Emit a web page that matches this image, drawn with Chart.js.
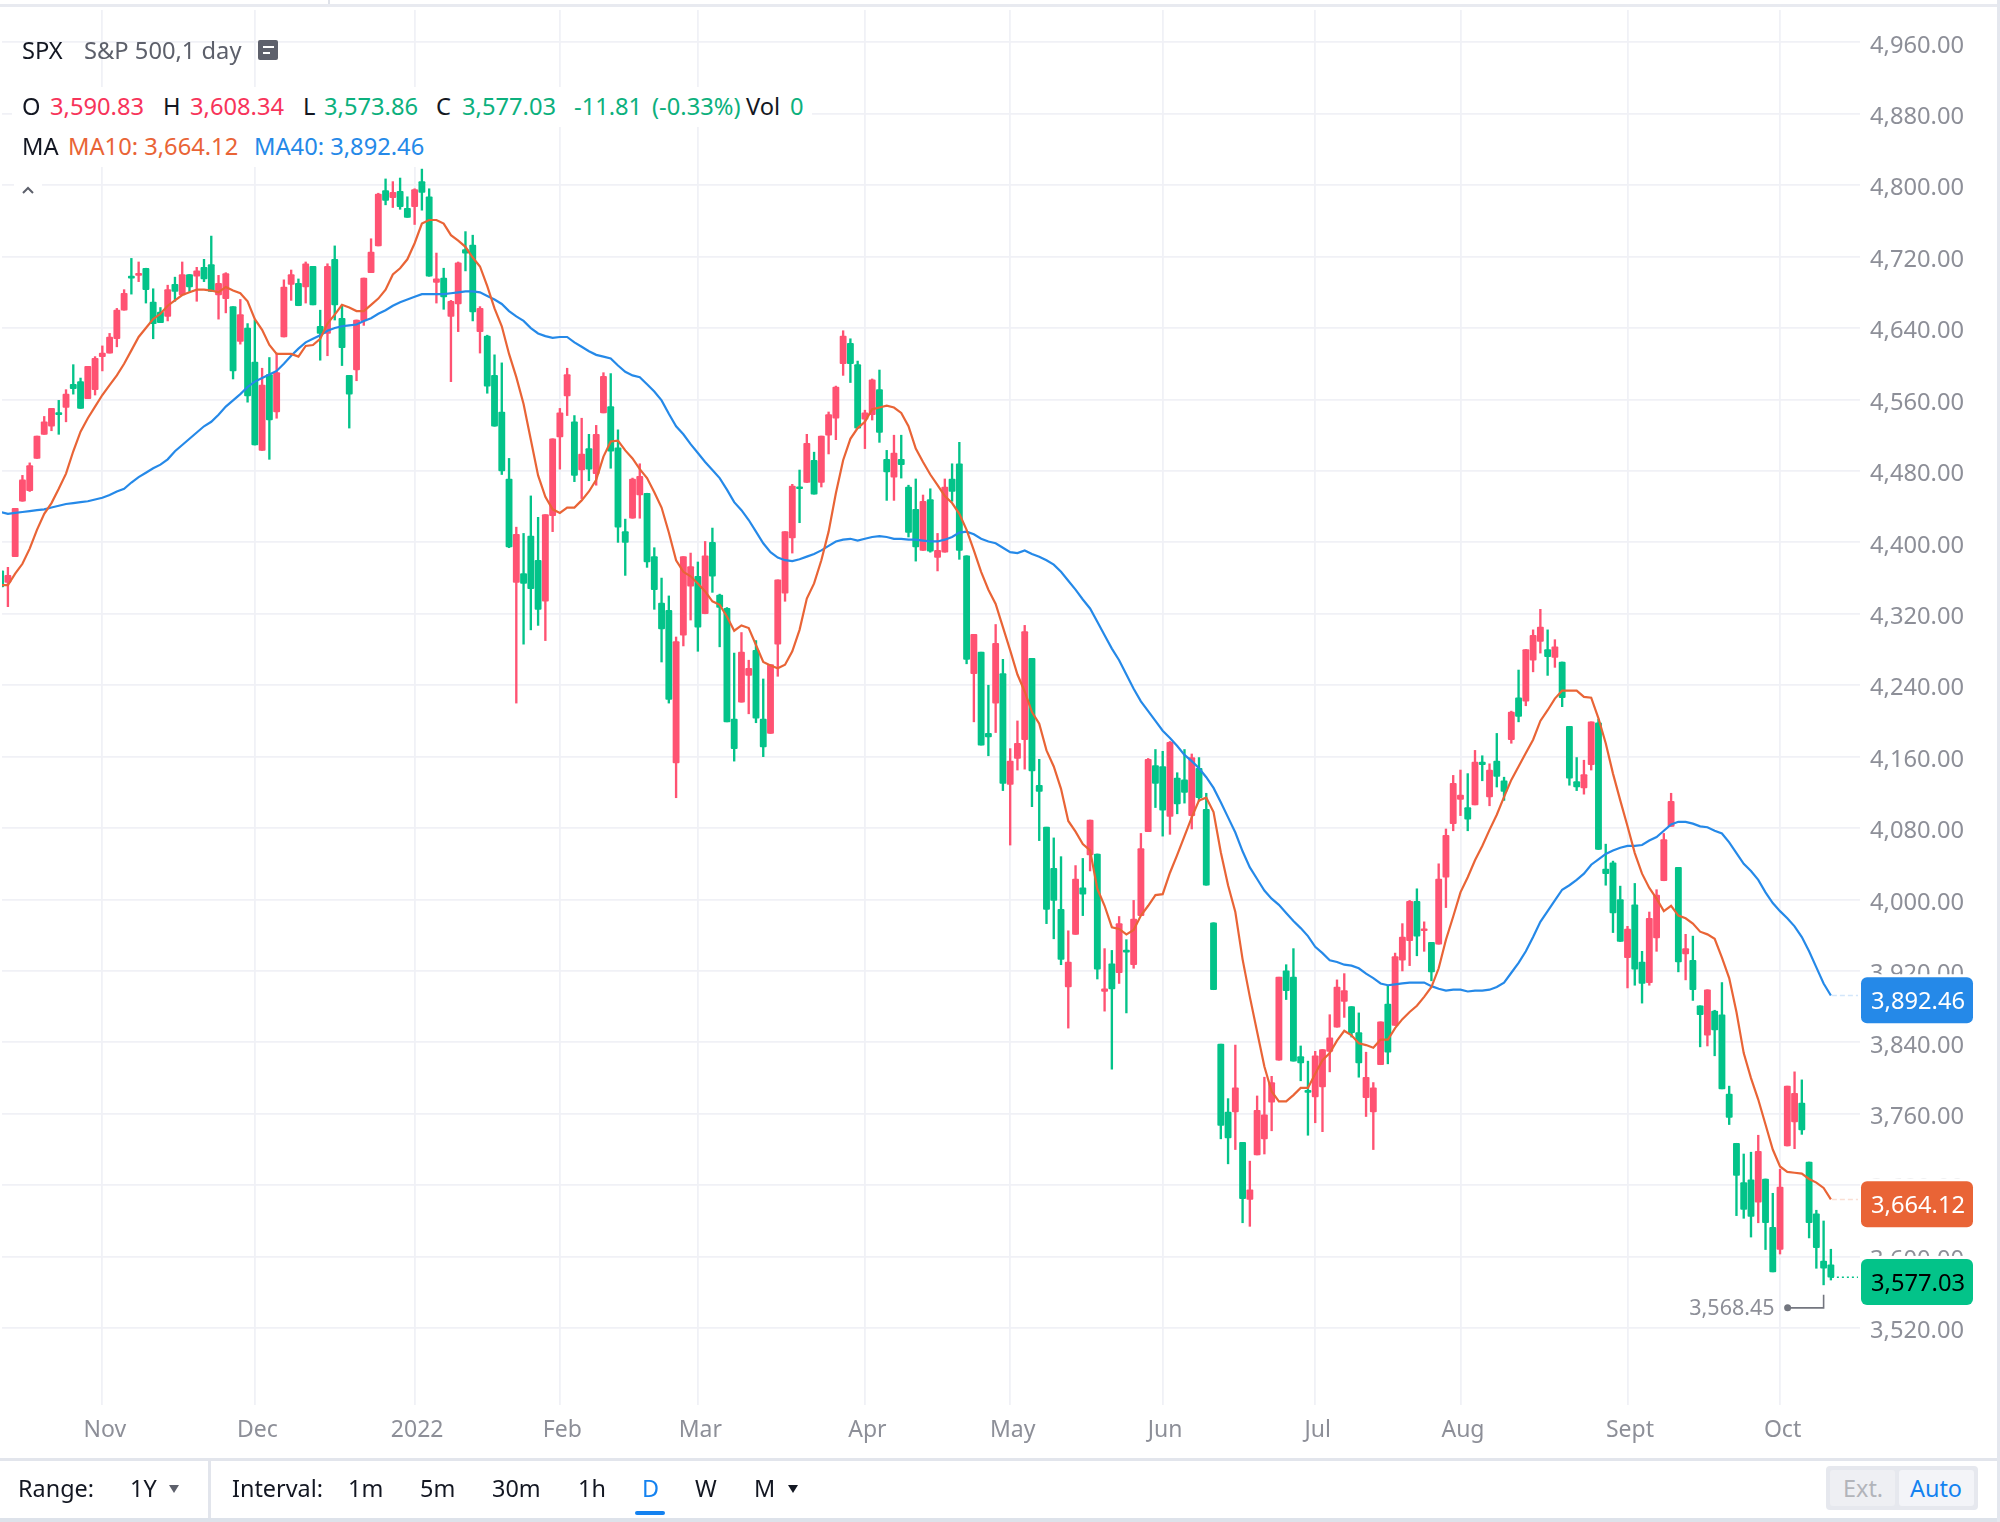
<!DOCTYPE html>
<html><head><meta charset="utf-8">
<script src="https://cdn.jsdelivr.net/npm/chart.js@4/dist/chart.umd.min.js"></script>
<style>
html,body{margin:0;padding:0;background:#fff;width:2000px;height:1522px;overflow:hidden;font-family:'Noto Sans',sans-serif}
#wrap{position:relative;width:2000px;height:1522px}
canvas{position:absolute;left:0;top:0}
.t{position:absolute;line-height:30px;height:30px;white-space:nowrap;font-size:23.7px;color:#131722}
.k{font-size:23.4px}
.b{position:absolute}
.g{color:#5d606b}.r{color:#f7345a}.n{color:#0cb07d}.o{color:#e96436}.u{color:#2589e8}
</style></head><body><div id="wrap">
<canvas id="c" width="2000" height="1459"></canvas>
<div class="b" style="left:0;top:4px;width:2000px;height:3px;background:#e8eaf0"></div>
<div class="b" style="left:328px;top:0;width:2px;height:4px;background:#dfe2e9"></div>
<div class="b" style="left:12px;top:87px;width:800px;height:40px;background:#fff"></div>
<div class="b" style="left:12px;top:127px;width:430px;height:40px;background:#fff"></div>
<div class="b" style="left:14px;top:178px;width:28px;height:22px;background:#fff"></div>
<div class="t" style="left:22px;top:35px">SPX</div>
<div class="t g" style="left:84px;top:35px">S&amp;P 500,1 day</div>
<div class="b" style="left:258px;top:40px;width:20px;height:20px;border-radius:2px;background:#5d606b"></div>
<div class="b" style="left:263px;top:46px;width:11px;height:2px;background:#fff"></div>
<div class="b" style="left:263px;top:52px;width:7px;height:2px;background:#fff"></div>
<div class="t" style="left:22px;top:91px">O</div><div class="t r" style="left:50px;top:91px">3,590.83</div>
<div class="t" style="left:163px;top:91px">H</div><div class="t r" style="left:190px;top:91px">3,608.34</div>
<div class="t" style="left:303px;top:91px">L</div><div class="t n" style="left:324px;top:91px">3,573.86</div>
<div class="t" style="left:436px;top:91px">C</div><div class="t n" style="left:462px;top:91px">3,577.03</div>
<div class="t n" style="left:574px;top:91px">-11.81</div><div class="t n" style="left:652px;top:91px">(-0.33%)</div>
<div class="t" style="left:746px;top:91px">Vol</div><div class="t n" style="left:790px;top:91px">0</div>
<div class="t" style="left:22px;top:131px">MA</div>
<div class="t o" style="left:68px;top:131px">MA10: 3,664.12</div>
<div class="t u" style="left:254px;top:131px">MA40: 3,892.46</div>
<svg class="b" style="left:20px;top:184px" width="16" height="12"><polyline points="3,9 8,4 13,9" fill="none" stroke="#5d606b" stroke-width="2"/></svg>
<div class="b" style="left:0;top:1458px;width:2000px;height:3px;background:#e2e5ec"></div>
<div class="b" style="left:208px;top:1460px;width:3px;height:58px;background:#e2e5ec"></div>
<div class="b" style="left:0;top:1518px;width:2000px;height:4px;background:#dde2ea"></div>
<div class="b" style="left:1997px;top:0;width:3px;height:1522px;background:#e4e7ee"></div>
<div class="t k" style="left:18px;top:1473px">Range:</div>
<div class="t k" style="left:130px;top:1473px">1Y</div>
<div class="b" style="left:169px;top:1485px;border-left:5.5px solid transparent;border-right:5.5px solid transparent;border-top:8px solid #5d606b"></div>
<div class="t k" style="left:232px;top:1473px">Interval:</div>
<div class="t k" style="left:348px;top:1473px">1m</div>
<div class="t k" style="left:420px;top:1473px">5m</div>
<div class="t k" style="left:492px;top:1473px">30m</div>
<div class="t k" style="left:578px;top:1473px">1h</div>
<div class="t k" style="left:642px;top:1473px;color:#1482f0">D</div>
<div class="b" style="left:635px;top:1511px;width:30px;height:4px;border-radius:2px;background:#1482f0"></div>
<div class="t k" style="left:695px;top:1473px">W</div>
<div class="t k" style="left:754px;top:1473px">M</div>
<div class="b" style="left:788px;top:1485px;border-left:5.5px solid transparent;border-right:5.5px solid transparent;border-top:8px solid #131722"></div>
<div class="b" style="left:1826px;top:1466px;width:152px;height:44px;border-radius:4px;background:#e6e8ee"></div>
<div class="b" style="left:1830px;top:1470px;width:65px;height:36px;border-radius:3px;background:#eeeff3"></div>
<div class="b" style="left:1899px;top:1470px;width:75px;height:36px;border-radius:3px;background:#f3f4f8"></div>
<div class="t k" style="left:1843px;top:1473px;color:#b2b4ba">Ext.</div>
<div class="t k" style="left:1910px;top:1473px;color:#1482f0">Auto</div>
</div>
<script>
const opens=[4368,4355,4384,4446,4458,4494,4521,4530,4545,4551,
4577,4580,4561,4571,4608,4612,4628,4660,4698,4699,
4707,4669,4658,4653,4689,4677,4700,4698,4708,4711,
4677,4673,4664,4625,4640,4602,4503,4588,4546,4630,
4689,4690,4686,4709,4642,4634,4717,4651,4587,4593,
4648,4702,4732,4794,4786,4793,4774,4776,4804,4787,
4691,4696,4653,4667,4728,4733,4636,4631,4587,4546,
4471,4355,4365,4407,4380,4334,4430,4518,4564,4535,
4481,4505,4477,4545,4552,4506,4412,4427,4453,4455,
4384,4332,4324,4153,4296,4351,4362,4320,4400,4341,
4326,4202,4221,4251,4279,4202,4186,4286,4343,4405,
4462,4467,4492,4467,4520,4539,4600,4623,4599,4538,
4543,4571,4493,4473,4493,4462,4437,4391,4448,4383,
4389,4471,4488,4385,4253,4277,4186,4220,4253,4129,
4158,4179,4270,4128,4081,4035,3989,3902,3961,4013,
4050,4051,3897,3928,3918,3942,3927,3982,4076,4150,
4149,4093,4136,4134,4094,4147,4101,3974,3838,3762,
3762,3728,3664,3714,3732,3773,3820,3920,3913,3824,
3786,3779,3790,3830,3857,3886,3880,3851,3778,3762,
3815,3883,3859,3932,3954,3998,3965,3952,3950,4025,
4085,4112,4103,4106,4154,4115,4155,4133,4179,4226,
4222,4268,4289,4280,4271,4266,4194,4132,4125,4151,
4198,4034,4041,4000,3935,3994,3930,3907,3957,4021,
4082,4036,3939,3932,3881,3848,3875,3871,3782,3727,
3683,3686,3661,3687,3633,3608,3724,3751,3772,3706,
3648,3595,3590.83];
const highs=[4374,4372,4438,4475,4489,4519,4541,4550,4559,4571,
4599,4584,4597,4608,4620,4634,4662,4683,4718,4714,
4707,4684,4663,4688,4697,4714,4700,4708,4717,4743,
4699,4702,4664,4672,4645,4649,4595,4607,4612,4694,
4705,4695,4714,4709,4660,4712,4732,4666,4587,4649,
4696,4740,4791,4807,4804,4808,4787,4796,4818,4796,
4724,4707,4671,4714,4748,4744,4664,4632,4610,4601,
4494,4417,4410,4452,4428,4431,4516,4550,4595,4542,
4539,4521,4531,4590,4589,4526,4426,4472,4488,4455,
4394,4360,4340,4294,4384,4388,4378,4401,4416,4342,
4327,4276,4299,4268,4290,4247,4263,4358,4412,4465,
4481,4521,4501,4519,4546,4575,4637,4628,4603,4548,
4583,4593,4503,4520,4520,4464,4471,4453,4460,4410,
4471,4488,4512,4385,4297,4277,4240,4308,4269,4169,
4200,4307,4270,4157,4081,4069,4048,3965,4038,4046,
4089,4051,3945,3943,3981,3955,3999,4074,4158,4168,
4166,4177,4142,4168,4163,4159,4119,3974,3838,3777,
3837,3728,3707,3780,3801,3802,3913,3927,3945,3836,
3819,3830,3832,3871,3910,3917,3880,3873,3829,3795,
3863,3903,3940,3973,3999,4012,3975,3952,4040,4079,
4139,4145,4141,4167,4161,4152,4186,4137,4211,4257,
4280,4302,4325,4302,4291,4266,4194,4159,4156,4199,
4202,4062,4043,4015,3970,4018,3942,3986,4011,4074,
4119,4036,3961,3959,3881,3899,3876,3907,3791,3727,
3715,3717,3736,3687,3671,3698,3791,3807,3798,3706,
3652,3640,3608.34];
const lows=[4342,4328,4384,4446,4457,4494,4521,4525,4521,4535,
4566,4550,4561,4565,4592,4612,4619,4660,4678,4692,
4668,4628,4646,4648,4670,4677,4681,4670,4692,4681,
4650,4657,4583,4622,4557,4509,4503,4493,4539,4630,
4671,4665,4668,4666,4604,4609,4649,4598,4528,4581,
4643,4702,4732,4778,4775,4773,4764,4756,4772,4698,
4668,4661,4580,4636,4704,4648,4612,4567,4530,4476,
4394,4220,4286,4302,4307,4290,4412,4482,4542,4468,
4449,4469,4464,4545,4483,4400,4363,4427,4427,4372,
4325,4266,4220,4114,4284,4313,4278,4320,4344,4283,
4199,4155,4221,4208,4198,4160,4186,4250,4334,4388,
4422,4467,4454,4462,4499,4515,4587,4579,4528,4505,
4537,4512,4447,4447,4472,4406,4379,4391,4389,4368,
4389,4446,4381,4264,4199,4173,4161,4187,4122,4061,
4145,4146,4104,4066,3973,3956,3927,3856,3961,3982,
4032,3911,3875,3810,3906,3873,3923,3982,4076,4103,
4071,4073,4096,4108,4079,4110,4016,3899,3732,3704,
3720,3638,3634,3714,3715,3741,3820,3888,3819,3797,
3736,3750,3740,3807,3857,3868,3846,3801,3757,3720,
3815,3816,3859,3920,3926,3937,3942,3909,3950,3991,
4077,4094,4077,4106,4133,4105,4126,4111,4175,4199,
4217,4255,4276,4251,4260,4216,4128,4122,4118,4145,
4056,4016,3963,3953,3901,3904,3884,3904,3942,4021,
4082,3919,3910,3887,3835,3836,3825,3788,3748,3646,
3643,3622,3638,3608,3583,3603,3724,3721,3737,3621,
3587,3568.45,3573.86];
const closes=[4350,4363,4438,4470,4486,4519,4535,4550,4543,4566,
4572,4550,4597,4606,4612,4630,4660,4679,4696,4701,
4683,4645,4646,4683,4681,4700,4686,4704,4695,4681,
4690,4701,4592,4655,4564,4509,4576,4537,4590,4686,
4700,4665,4712,4666,4634,4709,4666,4618,4566,4649,
4696,4725,4790,4783,4792,4776,4764,4795,4792,4698,
4695,4675,4670,4713,4724,4658,4662,4575,4530,4480,
4395,4409,4354,4348,4325,4431,4516,4545,4588,4475,
4499,4482,4521,4586,4502,4417,4400,4471,4474,4378,
4347,4303,4224,4289,4384,4373,4305,4385,4362,4327,
4199,4169,4277,4259,4203,4171,4263,4358,4412,4463,
4460,4511,4454,4519,4543,4574,4631,4600,4528,4545,
4582,4523,4479,4500,4487,4411,4395,4446,4390,4391,
4462,4457,4391,4269,4297,4173,4182,4287,4130,4155,
4175,4300,4144,4121,3989,3999,3933,3930,4023,4006,
4089,3922,3900,3900,3973,3941,3978,4057,4157,4130,
4100,4176,4107,4120,4159,4114,4016,3899,3747,3733,
3789,3665,3675,3764,3759,3795,3913,3898,3819,3817,
3784,3825,3832,3845,3902,3898,3851,3817,3801,3789,
3863,3829,3936,3958,3998,3959,3967,3919,4023,4072,
4130,4117,4090,4154,4151,4145,4138,4121,4210,4205,
4280,4296,4305,4272,4283,4226,4136,4126,4140,4199,
4056,4029,3985,3953,3967,3922,3906,3979,4005,4067,
4110,3930,3945,3899,3871,3899,3854,3788,3756,3691,
3653,3645,3718,3638,3583,3678,3791,3783,3742,3638,
3610,3587,3577.03];
const ma10=[4352,4352,4365,4376,4393,4414,4432,4444,4460,4477,
4502,4524,4539,4552,4565,4576,4587,4600,4615,4630,
4640,4650,4656,4665,4671,4677,4680,4683,4683,4682,
4680,4686,4682,4679,4670,4650,4638,4621,4611,4611,
4611,4608,4620,4621,4628,4645,4655,4666,4663,4659,
4659,4666,4673,4683,4700,4707,4717,4735,4757,4761,
4761,4757,4744,4738,4731,4719,4709,4687,4662,4642,
4611,4585,4555,4515,4475,4451,4437,4433,4439,4439,
4447,4457,4470,4496,4513,4514,4503,4494,4482,4472,
4456,4439,4411,4380,4367,4362,4354,4345,4334,4330,
4317,4301,4307,4304,4285,4266,4262,4259,4263,4278,
4302,4337,4354,4380,4412,4455,4492,4516,4528,4535,
4549,4551,4553,4551,4545,4530,4505,4490,4476,4464,
4452,4444,4432,4414,4391,4367,4347,4331,4305,4279,
4252,4233,4210,4197,4167,4149,4124,4088,4076,4062,
4055,4012,3993,3969,3967,3961,3966,3982,3993,4005,
4006,4030,4050,4071,4092,4111,4114,4098,4053,4016,
3986,3933,3891,3852,3813,3785,3774,3774,3781,3789,
3789,3805,3820,3828,3842,3853,3848,3839,3837,3834,
3843,3843,3856,3866,3874,3881,3891,3902,3923,3955,
3981,4008,4025,4044,4060,4078,4095,4115,4134,4149,
4164,4179,4200,4212,4225,4234,4234,4234,4227,4226,
4203,4175,4141,4111,4082,4052,4029,4013,4001,3987,
3993,3982,3979,3973,3964,3961,3956,3935,3912,3874,
3828,3800,3776,3748,3720,3701,3695,3694,3693,3687,
3683,3677,3664.12];
const ma40=[4434,4432,4433,4434,4435,4436,4437,4439,4441,4443,
4444,4445,4446,4448,4450,4453,4457,4460,4467,4473,
4478,4483,4487,4493,4502,4509,4516,4523,4530,4535,
4543,4552,4559,4566,4574,4580,4584,4588,4592,4600,
4609,4617,4624,4628,4632,4637,4640,4642,4643,4644,
4648,4651,4656,4660,4665,4669,4672,4675,4678,4678,
4678,4678,4679,4680,4681,4681,4680,4676,4672,4667,
4659,4653,4648,4640,4634,4631,4629,4630,4630,4624,
4619,4614,4610,4608,4606,4598,4591,4587,4585,4577,
4569,4559,4544,4530,4521,4510,4500,4490,4481,4472,
4459,4445,4436,4425,4412,4399,4389,4383,4380,4379,
4381,4384,4387,4391,4396,4401,4403,4404,4402,4404,
4406,4407,4406,4404,4404,4403,4403,4402,4401,4401,
4403,4406,4411,4412,4409,4404,4401,4399,4394,4389,
4388,4391,4387,4384,4380,4375,4367,4357,4347,4336,
4326,4311,4296,4281,4268,4252,4236,4222,4211,4200,
4189,4181,4172,4162,4155,4147,4137,4125,4109,4092,
4075,4054,4036,4023,4010,4001,3994,3985,3976,3968,
3959,3947,3940,3932,3930,3927,3926,3923,3917,3912,
3906,3904,3905,3906,3907,3907,3907,3903,3900,3898,
3899,3899,3897,3898,3898,3899,3902,3907,3918,3929,
3942,3958,3975,3987,3999,4011,4016,4022,4029,4039,
4045,4051,4055,4058,4060,4060,4061,4066,4070,4077,
4084,4087,4087,4085,4082,4081,4077,4074,4064,4052,
4040,4032,4022,4008,3996,3987,3979,3970,3958,3942,
3924,3906,3892.46];
const yTicks=[4960,4880,4800,4720,4640,4560,4480,4400,4320,4240,4160,4080,4000,3920,3840,3760,3680,3600,3520];
const monthIdx=[14,35,57,77,96,119,139,160,181,201,224,245];
const monthLabels=['Nov','Dec','2022','Feb','Mar','Apr','May','Jun','Jul','Aug','Sept','Oct'];
const lowestPrice=3568.45, lowestIdx=251;

const UP='#ff5272', DOWN='#03c389', GRID='#f0f1f6', AXT='#8d8f98', ORANGE='#e96436', BLUE='#2589e8';
const FONT="'Noto Sans',sans-serif";
const colors=closes.map((c,i)=>c>=opens[i]?UP:DOWN);
const fmt=v=>v.toLocaleString('en-US',{minimumFractionDigits:2,maximumFractionDigits:2});

const overlay={id:'overlay',afterDraw(ch){
  const c=ch.ctx,y=ch.scales.y,x=ch.scales.x;
  const lastX=x.getPixelForValue(closes.length-1);
  const tag=(v,bg,fg,dash,lc)=>{
    const py=y.getPixelForValue(v);
    c.save();
    c.strokeStyle=lc;c.lineWidth=1.5;c.setLineDash(dash);
    c.beginPath();c.moveTo(lastX+1,py);c.lineTo(1858,py);c.stroke();c.setLineDash([]);
    const top=py+4.7-23;
    c.fillStyle='#fff';c.fillRect(1861,top-3,112,52);
    c.fillStyle=bg;c.beginPath();c.roundRect(1861,top,112,46,6);c.fill();
    c.fillStyle=fg;c.font='23.7px '+FONT;c.textAlign='left';c.textBaseline='middle';
    c.fillText(fmt(v),1871,top+25);
    c.restore();
  };
  tag(ma40[ma40.length-1],BLUE,'#fff',[5,3],'#d3e6fa');
  tag(ma10[ma10.length-1],ORANGE,'#fff',[5,3],'#fadfd4');
  tag(closes[closes.length-1],DOWN,'#000',[2,3],DOWN);
  const mx=x.getPixelForValue(lowestIdx),my=y.getPixelForValue(lowestPrice);
  c.save();
  c.strokeStyle='#73767f';c.lineWidth=1.6;
  c.beginPath();c.moveTo(mx,my+10);c.lineTo(mx,my+23);c.lineTo(mx-36,my+23);c.stroke();
  c.fillStyle='#73767f';c.beginPath();c.arc(mx-36,my+23,3.5,0,Math.PI*2);c.fill();
  c.fillStyle=AXT;c.font='21.5px '+FONT;c.textAlign='right';c.textBaseline='middle';
  c.fillText(fmt(lowestPrice),mx-49,my+24);
  c.restore();
}};
const noPad=s=>{s.paddingTop=0;s.paddingBottom=0;s.paddingLeft=0;s.paddingRight=0;};

new Chart(document.getElementById('c'),{
  data:{datasets:[
    {type:'line',label:'MA10',order:1,data:ma10.map((v,i)=>({x:i,y:v})),borderColor:ORANGE,borderWidth:2.2,pointRadius:0,tension:0},
    {type:'line',label:'MA40',order:2,data:ma40.map((v,i)=>({x:i,y:v})),borderColor:BLUE,borderWidth:2.2,pointRadius:0,tension:0},
    {type:'bar',label:'Body',order:3,grouped:false,barThickness:6.2,minBarLength:2,borderRadius:1,borderSkipped:false,
      data:opens.map((o,i)=>({x:i,y:[Math.min(o,closes[i]),Math.max(o,closes[i])]})),backgroundColor:colors},
    {type:'bar',label:'Wick',order:4,grouped:false,barThickness:1.7,
      data:lows.map((l,i)=>({x:i,y:[l,highs[i]]})),backgroundColor:colors}
  ]},
  options:{
    responsive:false,animation:false,devicePixelRatio:1,
    layout:{padding:{left:2,top:10,right:0,bottom:0}},
    plugins:{legend:{display:false},tooltip:{enabled:false}},
    scales:{
      x:{type:'linear',offset:false,min:0.186,max:256.01,
        afterBuildTicks(s){s.ticks=monthIdx.map(v=>({value:v}));},
        afterFit(s){s.height=54;noPad(s);},
        grid:{offset:false,color:GRID,lineWidth:1.8,drawTicks:false},border:{display:false},
        ticks:{autoSkip:false,maxRotation:0,padding:12,labelOffset:2.5,color:AXT,font:{family:FONT,size:23},
          callback(v,i){return monthLabels[i];}}},
      y:{type:'linear',position:'right',min:3433.9,max:4996.2,
        afterBuildTicks(s){s.ticks=yTicks.map(v=>({value:v}));},
        afterFit(s){s.width=140;noPad(s);},
        grid:{color:GRID,lineWidth:1.8,drawTicks:false},border:{display:false},
        ticks:{padding:10,labelOffset:3.5,color:AXT,font:{family:FONT,size:23.7},
          callback(v){return fmt(v);}}}
    }
  },
  plugins:[overlay]
});
</script></body></html>
